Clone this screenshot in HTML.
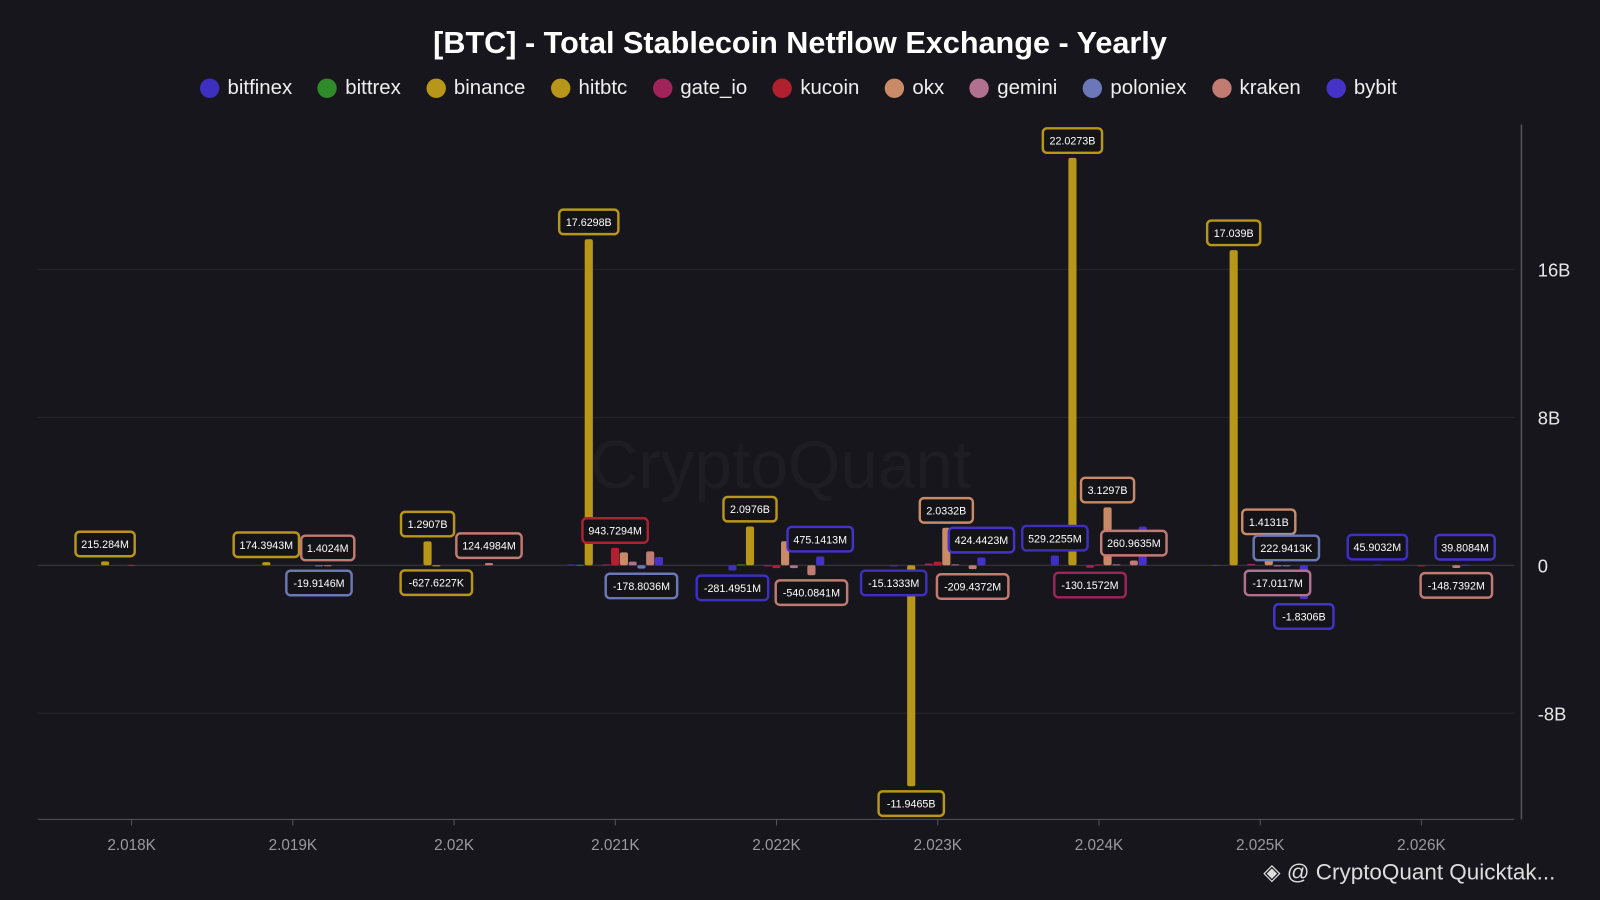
<!DOCTYPE html>
<html><head><meta charset="utf-8">
<style>
html,body{margin:0;padding:0;background:#17161c;overflow:hidden;width:1600px;height:900px}
#wrap{position:absolute;left:0;top:0;width:1568px;height:882px;transform:scale(1.020408);transform-origin:0 0;font-family:"Liberation Sans",sans-serif;color:#fff}
#title{position:absolute;top:26px;left:0;width:1568px;text-align:center;font-size:30px;font-weight:bold;letter-spacing:0px}
#legend{position:absolute;top:75px;left:0;width:1568px;display:flex;justify-content:center;gap:0;font-size:20px}
.li{display:flex;align-items:center;margin:0 14px 0 11px;color:#eee}
.dot{width:19px;height:19px;border-radius:50%;margin-right:8px}
#credit{position:absolute;left:1238px;top:842px;font-size:22px;color:#ddd}
</style></head><body>
<div id="wrap">
<div id="title">[BTC] - Total Stablecoin Netflow Exchange - Yearly</div>
<div id="legend"></div>
<svg id="svg" width="1568" height="882" style="position:absolute;left:0;top:0"></svg>
<div id="credit">◈ @ CryptoQuant Quicktak...</div>
</div>
<script>
const seriesNames=["bitfinex","bittrex","binance","hitbtc","gate_io","kucoin","okx","gemini","poloniex","kraken","bybit"];
const seriesColors=["#3d2fbf","#2f8a2a","#b8961a","#b8961a","#a0245a","#b0202e","#c98a68","#b27090","#6a78b8","#c07b72","#4533c8"];
const years=[2018,2019,2020,2021,2022,2023,2024,2025,2026];
const yTicks=[-8e9,0,8e9,16e9];
const yTickLabels=["-8B","0","8B","16B"];
const xTickLabels=["2.018K","2.019K","2.02K","2.021K","2.022K","2.023K","2.024K","2.025K","2.026K"];
const bitfinex=[0,0,0,0.05e9,-281.4951e6,-15.1333e6,529.2255e6,0.02e9,45.9032e6];
const bittrex=[0,0,0,0.03e9,0.05e9,0,0,0,0];
const binance=[215.284e6,174.3943e6,1.2907e9,17.6298e9,2.0976e9,-11.9465e9,22.0273e9,17.039e9,0];
const hitbtc=[0,0,-627.6227e3,0,0,0,0,0,0];
const gate_io=[0,0,0,0.05e9,-0.05e9,0.1e9,-130.1572e6,0.08e9,0];
const kucoin=[0.02e9,0,0,943.7294e6,-0.15e9,0.2e9,0.05e9,0,-0.03e9];
const okx=[0,0,0,0.7e9,1.3e9,2.0332e9,3.1297e9,1.4131e9,0];
const gemini=[0,0,0,0.2e9,-0.15e9,0.05e9,0.05e9,-17.0117e6,0];
const poloniex=[0,-19.9146e6,0,-178.8036e6,0,0,0,222.9413e3,0];
const kraken=[0,1.4024e6,124.4984e6,0.75e9,-540.0841e6,-209.4372e6,260.9635e6,0,-148.7392e6];
const bybit=[0,0,0,0.45e9,475.1413e6,424.4423e6,2.1e9,-1.8306e9,39.8084e6];
const values=[bitfinex,bittrex,binance,hitbtc,gate_io,kucoin,okx,gemini,poloniex,kraken,bybit];
const labeled=[[2,0],[2,1],[8,1],[9,1],[2,2],[3,2],[9,2],[2,3],[5,3],[8,3],[2,4],[0,4],[10,4],[9,4],[2,5],[0,5],[6,5],[10,5],[9,5],[2,6],[0,6],[6,6],[9,6],[4,6],[2,7],[6,7],[8,7],[7,7],[10,7],[0,8],[10,8],[9,8]];

const NS="http://www.w3.org/2000/svg";
const svg=document.getElementById('svg');
const X0=37,X1=1484,Y0=122,YB=803;
const xScale=y=>129+(y-2018)*158;
const yScale=v=>554-v/8e9*145;
function mk(t,a,p){const e=document.createElementNS(NS,t);for(const k in a)e.setAttribute(k,a[k]);(p||svg).appendChild(e);return e;}

const leg=document.getElementById('legend');
seriesNames.forEach((n,i)=>{const d=document.createElement('div');d.className='li';


d.innerHTML='<span class="dot" style="background:'+seriesColors[i]+'"></span>'+n;leg.appendChild(d);});

let wm=mk('text',{x:765,y:478,'text-anchor':'middle','font-size':66,fill:'#1e1d23','font-family':'Liberation Sans, sans-serif'});wm.textContent='CryptoQuant';



yTicks.forEach((t,i)=>{const y=yScale(t);
 if(t!==0){const g=mk('line',{x1:X0,x2:X1,y1:y,y2:y,stroke:'#26252c','stroke-width':1});}
 const l=mk('text',{x:1507,y:y+7,'font-size':18,fill:'#e8e8e8','font-family':'Liberation Sans, sans-serif'});l.textContent=yTickLabels[i];
 
 });
let zl=mk('line',{x1:X0,x2:X1,y1:yScale(0),y2:yScale(0),stroke:'#3a3940','stroke-width':1});

let ra=mk('line',{x1:1491,x2:1491,y1:Y0,y2:YB,stroke:'#55545a','stroke-width':1.5});

let xa=mk('line',{x1:X0,x2:X1,y1:YB,y2:YB,stroke:'#55545a','stroke-width':1});

years.forEach((yr,i)=>{const x=xScale(yr);
 mk('line',{x1:x,x2:x,y1:YB,y2:YB+6,stroke:'#55545a'});
 const t=mk('text',{x:x,y:YB+30,'text-anchor':'middle','font-size':15,fill:'#9a99a0','font-family':'Liberation Sans, sans-serif'});t.textContent=xTickLabels[i];
 
 });

const step=8.6,bw=8,half=47.5;
const barX=(s,yi)=>xScale(years[yi])-half+(s+0.5)*step;
values.forEach((arr,s)=>arr.forEach((v,yi)=>{if(!v)return;
 const y1=yScale(Math.max(v,0)),y2=yScale(Math.min(v,0));let h=Math.max(y2-y1,1);
 const x=barX(s,yi);
 const r=mk('rect',{x:x-bw/2,y:y1,width:bw,height:h,fill:seriesColors[s],rx:2});
 
 }));

function fmt(v){const a=Math.abs(v);let d,u;if(a>=1e9){d=1e9;u='B'}else if(a>=1e6){d=1e6;u='M'}else{d=1e3;u='K'}
 return String(parseFloat((v/d).toFixed(4)))+u;}
const placed=[];
labeled.forEach(([s,yi])=>{const v=values[s][yi];const x=barX(s,yi);const txt=fmt(v);
 const w=txt.length*6+10,h=24;const tip=yScale(v);const dir=v>=0?-1:1;
 let cy=tip+dir*17;
 if(v>=0&&cy>554-14)cy=554-14; if(v<0&&cy<554+14)cy=554+14;
 let guard=0;
 while(guard++<10&&placed.some(p=>Math.abs(p.x-x)<(p.w+w)/2-4&&Math.abs(p.y-cy)<h-2)){cy+=dir*24;}
 placed.push({x,y:cy,w});
 const g=mk('g',{});
 
 
 mk('rect',{x:x-w/2,y:cy-h/2,width:w,height:h,rx:4,fill:'#141318',stroke:seriesColors[s],'stroke-width':2.4},g);
 const t=mk('text',{x:x,y:cy+4,'text-anchor':'middle','font-size':10.5,fill:'#fff','font-family':'Liberation Sans, sans-serif'},g);t.textContent=txt;});
</script>
</body></html>
